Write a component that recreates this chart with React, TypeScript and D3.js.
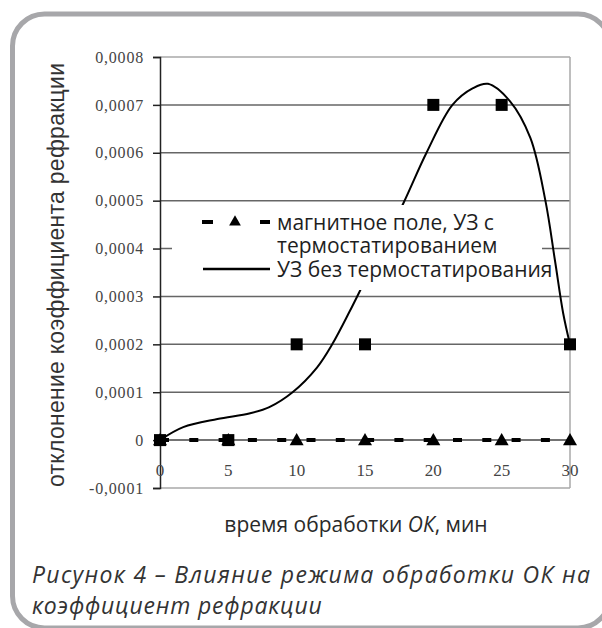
import { useEffect, useRef } from "react";
import * as d3 from "d3";

// x values (minutes) and the two measured series
const times = [0, 5, 10, 15, 20, 25, 30];
const magneticThermo = [0, 0, 0, 0, 0, 0, 0];
const usNoThermo = [0, 0, 0.0002, 0.0002, 0.0007, 0.0007, 0.0002];

// smoothed trend line of the second series
const trendX = [0, 1.7, 4.2, 6.6, 8, 9.7, 11.5, 12.6, 13.9, 15, 17.8, 19.5, 21.4, 22.9, 24, 25.6, 27.1, 28.2, 28.9, 29.5, 30];
const trendY = [0, 0.000027, 0.000044, 0.000056, 0.000069, 0.0001, 0.000152, 0.0002, 0.00027, 0.000333, 0.000494, 0.0006, 0.0007, 0.000735, 0.000744, 0.000708, 0.000631, 0.0005, 0.000375, 0.000265, 0.0002];

const yTicks = [-0.0001, 0, 0.0001, 0.0002, 0.0003, 0.0004, 0.0005, 0.0006, 0.0007, 0.0008];
const yTickLabels = ["-0,0001", "0", "0,0001", "0,0002", "0,0003", "0,0004", "0,0005", "0,0006", "0,0007", "0,0008"];
const xTickLabels = ["0", "5", "10", "15", "20", "25", "30"];

const legendLabels = [["магнитное поле, УЗ с", "термостатированием"], ["УЗ без термостатирования"]];

export default function App() {
  const svgRef = useRef<SVGSVGElement | null>(null);

  useEffect(() => {
    if (!svgRef.current) return;
    const width = 602;
    const height = 628;
    const svg = d3.select(svgRef.current);
    svg.selectAll("*").remove();
    svg.attr("width", width).attr("height", height);

    const sans = "'Open Sans', 'Noto Sans', sans-serif";
    const serif = "'Liberation Serif', 'Times New Roman', serif";

    // outer rounded frame
    svg
      .append("rect")
      .attr("x", 12.5)
      .attr("y", 14)
      .attr("width", 597.5)
      .attr("height", 614)
      .attr("rx", 32)
      .attr("fill", "#fff")
      .attr("stroke", "#a7a7aa")
      .attr("stroke-width", 5);

    const x = d3.scaleLinear().domain([0, 30]).range([160, 570]);
    const y = d3.scaleLinear().domain([-0.0001, 0.0008]).range([488, 57]);

    // gridlines
    svg
      .append("g")
      .selectAll("line")
      .data(yTicks.filter(d => d !== 0))
      .join("line")
      .attr("x1", x(0))
      .attr("x2", x(30))
      .attr("y1", d => y(d))
      .attr("y2", d => y(d))
      .attr("stroke", d => (d === 0.0008 || d === -0.0001 ? "#a8a8a8" : "#666"))
      .attr("stroke-width", 1.5);

    // right border
    svg
      .append("line")
      .attr("x1", x(30))
      .attr("x2", x(30))
      .attr("y1", y(0.0008))
      .attr("y2", y(-0.0001))
      .attr("stroke", "#a8a8a8")
      .attr("stroke-width", 1.5);

    // zero line (x axis)
    svg
      .append("line")
      .attr("x1", x(0))
      .attr("x2", x(30))
      .attr("y1", y(0))
      .attr("y2", y(0))
      .attr("stroke", "#444")
      .attr("stroke-width", 1.5);

    // y axis
    const yAxis = svg
      .append("g")
      .attr("transform", `translate(${x(0)},0)`)
      .call(
        d3
          .axisLeft(y)
          .tickValues(yTicks)
          .tickSize(7)
          .tickPadding(9)
          .tickFormat((d, i) => yTickLabels[i])
      );
    yAxis.select(".domain").attr("stroke", "#222").attr("stroke-width", 1.5);
    yAxis.selectAll(".tick line").attr("stroke", "#222").attr("stroke-width", 1.5);
    yAxis
      .selectAll(".tick text")
      .attr("fill", "#444")
      .style("font-family", serif)
      .style("font-size", "16px")
      .style("letter-spacing", "0.8px");

    // x tick labels
    svg
      .append("g")
      .selectAll("text")
      .data(times)
      .join("text")
      .attr("x", d => x(d))
      .attr("y", 476)
      .attr("text-anchor", "middle")
      .attr("fill", "#444")
      .style("font-family", serif)
      .style("font-size", "17px")
      .text((d, i) => xTickLabels[i]);

    // series: magnetic field, dashed line with triangles
    const line = d3
      .line<number>()
      .x((d, i) => x(times[i]))
      .y(d => y(d));

    svg
      .append("path")
      .datum(magneticThermo)
      .attr("fill", "none")
      .attr("stroke", "#000")
      .attr("stroke-width", 4)
      .attr("stroke-dasharray", "9 20.3")
      .attr("d", line);

    // trend curve of US without thermostat
    const trend = d3
      .line<number>()
      .x((d, i) => x(trendX[i]))
      .y(d => y(d))
      .curve(d3.curveCatmullRom);

    svg
      .append("path")
      .datum(trendY)
      .attr("fill", "none")
      .attr("stroke", "#000")
      .attr("stroke-width", 2)
      .attr("d", trend);

    const tri = d3.symbol().type(d3.symbolTriangle).size(85);
    svg
      .append("g")
      .selectAll("path")
      .data(magneticThermo)
      .join("path")
      .attr("d", tri)
      .attr("transform", (d, i) => `translate(${x(times[i])},${y(d) + 1})`)
      .attr("fill", "#000");

    const sq = 12;
    svg
      .append("g")
      .selectAll("rect")
      .data(usNoThermo)
      .join("rect")
      .attr("x", (d, i) => x(times[i]) - sq / 2)
      .attr("y", d => y(d) - sq / 2)
      .attr("width", sq)
      .attr("height", sq)
      .attr("fill", "#000");

    // legend
    const lg = svg.append("g");
    lg.append("rect")
      .attr("x", 172)
      .attr("y", 205)
      .attr("width", 370)
      .attr("height", 85)
      .attr("fill", "#fff");

    lg.append("line")
      .attr("x1", 202)
      .attr("x2", 213)
      .attr("y1", 222)
      .attr("y2", 222)
      .attr("stroke", "#000")
      .attr("stroke-width", 4);
    lg.append("line")
      .attr("x1", 260)
      .attr("x2", 270)
      .attr("y1", 222)
      .attr("y2", 222)
      .attr("stroke", "#000")
      .attr("stroke-width", 4);
    lg.append("path")
      .attr("d", d3.symbol().type(d3.symbolTriangle).size(60))
      .attr("transform", "translate(235,222)")
      .attr("fill", "#000");
    lg.append("line")
      .attr("x1", 203)
      .attr("x2", 270)
      .attr("y1", 269)
      .attr("y2", 269)
      .attr("stroke", "#000")
      .attr("stroke-width", 2.5);

    const legendLines = [...legendLabels[0], ...legendLabels[1]];
    const baselines = [230, 253, 277];
    lg.selectAll("text.lbl")
      .data(legendLines)
      .join("text")
      .attr("class", "lbl")
      .attr("x", 277)
      .attr("y", (d, i) => baselines[i])
      .attr("fill", "#1e1e1e")
      .style("font-family", sans)
      .style("font-size", "21px")
      .text(d => d);

    // y axis title
    svg
      .append("text")
      .attr("transform", "translate(64,275) rotate(-90)")
      .attr("text-anchor", "middle")
      .attr("textLength", 424)
      .attr("lengthAdjust", "spacing")
      .attr("fill", "#333")
      .style("font-family", "'Liberation Sans', Arial, sans-serif")
      .style("font-size", "23px")
      .text("отклонение коэффициента рефракции");

    // x axis title
    const xt = svg
      .append("text")
      .attr("x", 356)
      .attr("y", 532)
      .attr("text-anchor", "middle")
      .attr("fill", "#2a2a2a")
      .style("font-family", sans)
      .style("font-size", "21px");
    xt.append("tspan").text("время обработки ");
    xt.append("tspan").style("font-style", "italic").text("ОК");
    xt.append("tspan").text(", мин");

    // caption
    svg
      .append("text")
      .attr("x", 32)
      .attr("y", 583)
      .attr("textLength", 558)
      .attr("lengthAdjust", "spacing")
      .attr("fill", "#333")
      .style("font-family", sans)
      .style("font-style", "italic")
      .style("font-size", "23px")
      .text("Рисунок  4 – Влияние режима обработки ОК на");
    svg
      .append("text")
      .attr("x", 32)
      .attr("y", 614)
      .attr("fill", "#333")
      .style("font-family", sans)
      .style("font-style", "italic")
      .style("font-size", "23px")
      .style("letter-spacing", "0.8px")
      .text("коэффициент рефракции");
  }, []);

  return (
    <div style={{ position: "absolute", left: 0, top: 0, background: "#fff" }}>
      <svg ref={svgRef} style={{ display: "block" }}></svg>
    </div>
  );
}
